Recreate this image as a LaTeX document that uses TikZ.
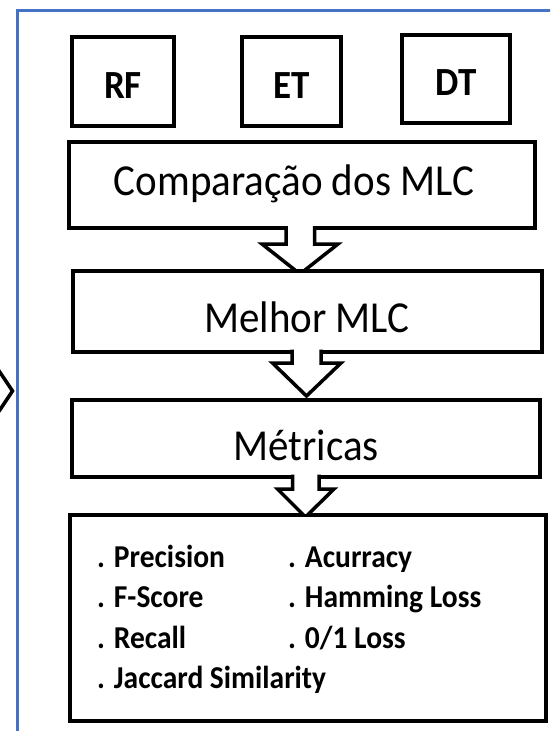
\documentclass[tikz,border=0pt]{standalone}
\usepackage{fontspec}
\setmainfont{Carlito}
\usetikzlibrary{calc}
\definecolor{frameblue}{RGB}{68,114,196}
\newcommand{\ystr}[1]{\scalebox{1}[1.08]{#1}}
\begin{document}
\begin{tikzpicture}[x=1pt,y=-1pt,
  boxbase/.style={rectangle, draw=black, line width=4pt, fill=white, inner sep=0pt, outer sep=0pt},
  algobox/.style={boxbase, font=\fontsize{37}{44}\selectfont\bfseries, text height=33pt, text depth=0pt},
  stagebox/.style={boxbase, font=\fontsize{41}{49}\selectfont},
  itemtext/.style={anchor=base west, inner sep=0pt, font=\fontsize{29.5}{35}\selectfont\bfseries},
  blockarrow/.style={draw=black, fill=white, line width=3.5pt, line join=miter},
  frameline/.style={draw=frameblue, line width=3pt, line join=miter},
  chevron/.style={draw=black, line width=3.5pt, line join=miter}
]
\useasboundingbox (0,0) rectangle (550,731);
\clip (0,0) rectangle (550,731);
\fill[white] (0,0) rectangle (550,731);

% left chevron and blue frame
\draw[chevron] (-5,364.8) -- (12.5,391) -- (-5,417.2);
\draw[frameline] (17,745) -- (17,10.5) -- (565,10.5);

% algorithm boxes
\node[algobox, minimum width=102.5pt, minimum height=89pt] (rf) at (123,81.5) {\ystr{RF}};
\node[algobox, minimum width=99pt, minimum height=89pt] (et) at (291.5,81.5) {\ystr{ET}};
\node[algobox, minimum width=108pt, minimum height=88pt, text height=32pt] (dt) at (456,79) {\ystr{DT}};

% stage boxes
\node[stagebox, minimum width=466pt, minimum height=86pt, text height=30pt, text depth=10pt] (cmp) at (302,185) {\ystr{Comparação dos MLC\phantom{s}}};
\node[stagebox, minimum width=469pt, minimum height=81pt, text height=42pt, text depth=0pt] (mel) at (307,311) {\ystr{Melhor MLC}};
\node[stagebox, minimum width=468pt, minimum height=77pt, text height=44pt, text depth=0pt] (met) at (306,438) {\ystr{Métricas}};
\node[boxbase, minimum width=476pt, minimum height=205.5pt] (res) at (308,618) {};

% metric list
\node[itemtext] (i1) at (97,567) {\ystr{. Precision}};
\node[itemtext] (i2) at (288,567) {\ystr{. Acurracy}};
\node[itemtext] (i3) at (97,607) {\ystr{. F-Score}};
\node[itemtext] (i4) at (288,607) {\ystr{. Hamming Loss}};
\node[itemtext] (i5) at (97,648) {\ystr{. Recall}};
\node[itemtext] (i6) at (288,648) {\ystr{. 0/1 Loss}};
\node[itemtext] (i7) at (97,688) {\ystr{. Jaccard Similarity}};

% anchors for block arrows
\coordinate (cmpB) at ([yshift=2pt]cmp.south);
\coordinate (melB) at ([yshift=2pt]mel.south);
\coordinate (metB) at ([yshift=2pt]met.south);
\coordinate (melT) at ([yshift=2pt]mel.north);
\coordinate (metT) at ([yshift=2pt]met.north);
\coordinate (resT) at ([yshift=2pt]res.north);

\coordinate (a1l) at (286,244);
\coordinate (a1r) at (314.5,244);
\coordinate (a2l) at (292,363);
\coordinate (a2r) at (321,363);
\coordinate (a3l) at (292.5,489);
\coordinate (a3r) at (319,489);

% block arrow: Comparacao -> Melhor
\begin{scope}
\clip (0,0) rectangle (melT -| res.east);
\path[blockarrow] (a1l |- cmpB) -- (a1l) -- (262,244) -- (300,274) -- (338,244) -- (a1r) -- (a1r |- cmpB);
\end{scope}
% block arrow: Melhor -> Metricas
\begin{scope}
\clip (0,0) rectangle (metT -| res.east);
\path[blockarrow] (a2l |- melB) -- (a2l) -- (272.5,363) -- (306.5,396) -- (341,363) -- (a2r) -- (a2r |- melB);
\end{scope}
% block arrow: Metricas -> results
\begin{scope}
\clip (0,0) rectangle (resT -| res.east);
\path[blockarrow] (a3l |- metB) -- (a3l) -- (277.5,489) -- (305.5,517) -- (334,489) -- (a3r) -- (a3r |- metB);
\end{scope}
\end{tikzpicture}
\end{document}
